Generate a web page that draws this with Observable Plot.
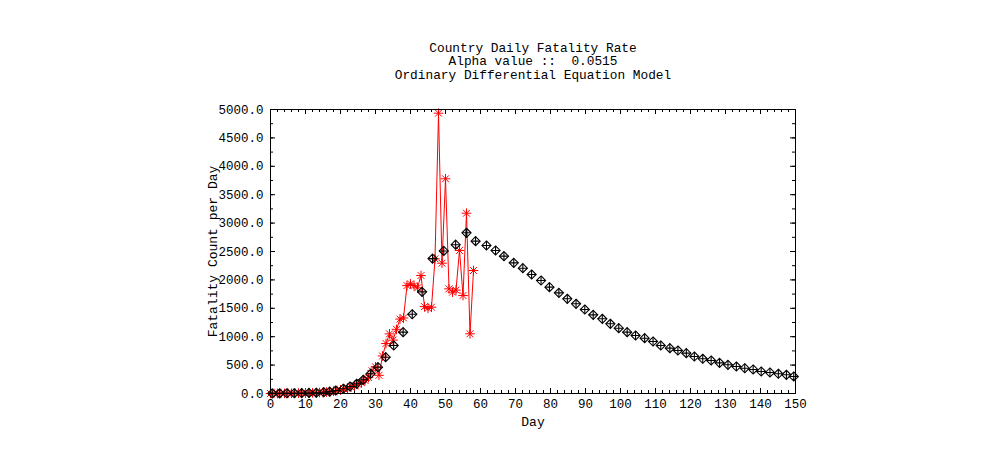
<!DOCTYPE html>
<html>
<head>
<meta charset="utf-8">
<script src="https://cdn.jsdelivr.net/npm/d3@7"></script>
<script src="https://cdn.jsdelivr.net/npm/@observablehq/plot@0.6"></script>
<style>
  html, body { margin: 0; padding: 0; background: white; }
  svg text { white-space: pre; }
</style>
</head>
<body>
<div id="chart"></div>
<script>
const titleLines = ["Country Daily Fatality Rate", "Alpha value ::  0.0515", "Ordinary Differential Equation Model"];
const xLabel = "Day";
const yLabel = "Fatality Count per Day";

// Observed daily fatalities (red asterisks)
const obsDays = [0,1,2,3,4,5,6,7,8,9,10,11,12,13,14,15,16,17,18,19,20,21,22,23,24,25,26,27,28,29,30,31,32,33,34,35,36,37,38,39,40,41,42,43,44,45,46,47,48,49,50,51,52,53,54,55,56,57,58];
const obsValues = [0,1,0,2,2,3,4,5,6,7,8,10,12,15,18,20,25,32,40,52,62,80,95,112,140,160,190,230,280,400,470,320,660,880,1050,940,1130,1310,1330,1900,1930,1900,1860,2077,1530,1500,1520,2370,4935,2294,3780,1843,1784,1820,2518,1725,3174,1051,2165];

// ODE model (black diamonds)
const modelDays = [0.5,2.6,4.7,6.8,8.9,11,13.1,15.2,16.9,18.6,20.8,22.7,24.6,26.5,28.6,30.7,32.9,35.2,37.9,40.5,43.3,46.3,49.5,52.9,56.0,58.6,61.7,64.3,66.7,69.5,72.1,74.6,77.3,79.7,82.4,84.8,87.3,89.8,92.2,94.8,97.1,99.5,101.9,104.3,106.9,109.3,111.5,114.1,116.4,118.8,121.1,123.5,125.9,128.3,130.7,133.1,135.5,137.9,140.2,142.7,145.1,147.4,149.5];
const modelValues = [2,3,4,5,7,10,14,22,33,53,83,123,171,241,347,463,639,845,1080,1395,1790,2375,2510,2620,2829,2682,2606,2518,2418,2300,2206,2095,1989,1872,1772,1667,1579,1479,1385,1315,1227,1150,1080,1021,974,915,845,798,757,710,651,611,581,540,505,475,445,423,387,370,347,329,299];

const xTickLabels = [0,10,20,30,40,50,60,70,80,90,100,110,120,130,140,150];
const xMinorTicks = d3.range(0, 151, 2);
const yTickLabels = [0,500,1000,1500,2000,2500,3000,3500,4000,4500,5000];
const yMinorTicks = d3.range(0, 5001, 250);

const obs = obsDays.map((d, i) => ({day: d, value: obsValues[i]}));
const model = modelDays.map((d, i) => ({day: d, value: modelValues[i]}));

const W = 1000, H = 449, mL = 270, mR = 205, mT = 109, mB = 56;
const fw = W - mL - mR, fh = H - mT - mB;
const majorLen = 5, minorLen = 3;
const titleOffsets = [-62, -49, -35];

const chart = Plot.plot({
  width: W, height: H,
  marginLeft: mL, marginRight: mR, marginTop: mT, marginBottom: mB,
  x: {domain: [0, 150]},
  y: {domain: [0, 5000]},
  style: {fontFamily: "'Liberation Mono', 'DejaVu Sans Mono', monospace", fontSize: "12px", color: "black", background: "white"},
  marks: [
    // ticks (inward, all four sides)
    Plot.tickX(xMinorTicks, {x: d => d, insetTop: fh - minorLen, stroke: "black"}),
    Plot.tickX(xTickLabels, {x: d => d, insetTop: fh - majorLen, stroke: "black"}),
    Plot.tickX(xMinorTicks, {x: d => d, insetBottom: fh - minorLen, stroke: "black"}),
    Plot.tickX(xTickLabels, {x: d => d, insetBottom: fh - majorLen, stroke: "black"}),
    Plot.tickY(yMinorTicks, {y: d => d, insetRight: fw - minorLen, stroke: "black"}),
    Plot.tickY(yTickLabels, {y: d => d, insetRight: fw - majorLen, stroke: "black"}),
    Plot.tickY(yMinorTicks, {y: d => d, insetLeft: fw - minorLen, stroke: "black"}),
    Plot.tickY(yTickLabels, {y: d => d, insetLeft: fw - majorLen, stroke: "black"}),
    Plot.axisX(xTickLabels, {anchor: "bottom", tickSize: 0, tickPadding: 6, tickFormat: d => String(d), label: null, fontSize: 12.5}),
    Plot.axisY(yTickLabels, {anchor: "left", tickSize: 0, tickPadding: 7, tickFormat: d => d.toFixed(1), label: null, fontSize: 12.5}),
    // observed
    Plot.line(obs, {x: "day", y: "value", stroke: "#ff0000", strokeWidth: 1}),
    Plot.dot(obs, {x: "day", y: "value", symbol: "plus", r: 3.2, stroke: "#ff0000", strokeWidth: 1}),
    Plot.dot(obs, {x: "day", y: "value", symbol: "times", r: 3.2, stroke: "#ff0000", strokeWidth: 1}),
    // model
    Plot.dot(model, {x: "day", y: "value", symbol: "diamond2", r: 4.1, stroke: "black", fill: "white", fillOpacity: 0, strokeWidth: 1.1}),
    Plot.dot(model, {x: "day", y: "value", symbol: "plus", r: 3.0, stroke: "black", strokeWidth: 1.1}),
    Plot.frame({stroke: "black", strokeWidth: 1}),
    // axis titles
    Plot.text([xLabel], {text: d => d, frameAnchor: "bottom", dy: 28, fontSize: 13, lineAnchor: "middle", textAnchor: "middle"}),
    Plot.text([yLabel], {text: d => d, frameAnchor: "left", dx: -58, rotate: -90, fontSize: 13, lineAnchor: "middle", textAnchor: "middle"}),
    // title lines
    ...titleLines.map((t, i) => Plot.text([t], {text: d => d, frameAnchor: "top", dy: titleOffsets[i], lineAnchor: "middle", textAnchor: "middle", fontSize: 12.8}))
  ]
});

document.getElementById("chart").appendChild(chart);
</script>
</body>
</html>
